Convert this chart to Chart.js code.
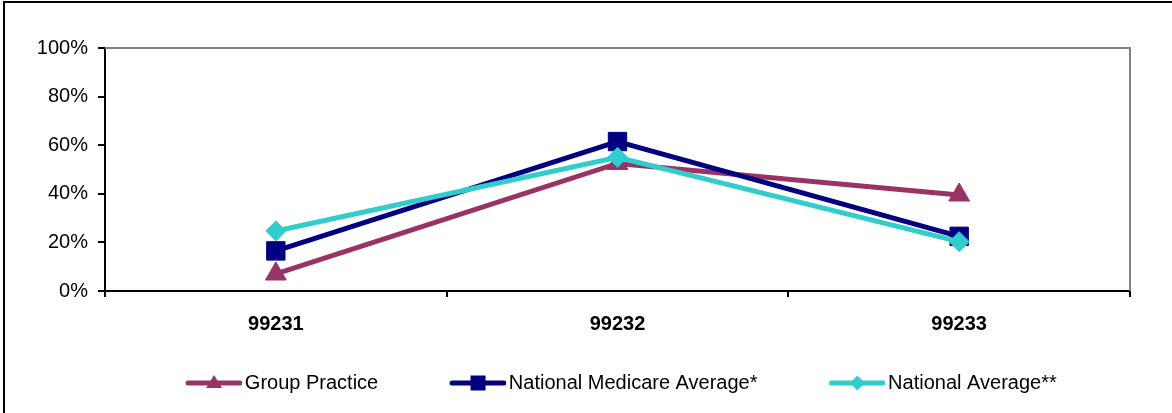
<!DOCTYPE html>
<html>
<head>
<meta charset="utf-8">
<script src="https://cdn.jsdelivr.net/npm/chart.js"></script>
<style>
  html, body { margin: 0; padding: 0; background: #fff; }
  #wrap { position: relative; width: 1172px; height: 413px; }
</style>
</head>
<body>
<div id="wrap"><canvas id="myChart" width="1172" height="413"></canvas></div>
<script>
// chart data
const codes = ['99231', '99232', '99233'];
const seriesNames = ['Group Practice', 'National Medicare Average*', 'National Average**'];
const groupPractice = [7, 52.5, 39.5];
const medicareAvg = [16.5, 61.5, 22.5];
const nationalAvg = [24.7, 55, 20.3];
const yTicks = [0, 20, 40, 60, 80, 100];

const colors = ['#993366', '#000080', '#33CCCC'];
const markers = ['triangle', 'rect', 'rectRot'];
const radii = [12, 13, 10];

const FONT = "'Liberation Sans', Arial, sans-serif";
const BOX_W = 119.6;
const LEG_PAD = 1;

// little legend picture: line with marker on its right part
function legendImage(i) {
  const c = document.createElement('canvas');
  c.width = Math.round(BOX_W + 14);
  c.height = 24;
  const g = c.getContext('2d');
  const x0 = c.width - 56, x1 = c.width, cy = 12;
  g.strokeStyle = colors[i];
  g.lineWidth = 5;
  g.lineCap = 'round';
  g.beginPath(); g.moveTo(x0 + 2, cy); g.lineTo(x1 - 2, cy); g.stroke();
  g.fillStyle = colors[i];
  const mx = (x0 + x1) / 2;
  g.beginPath();
  if (markers[i] === 'triangle') {
    g.moveTo(mx, cy - 8); g.lineTo(mx + 8, cy + 5); g.lineTo(mx - 8, cy + 5);
  } else if (markers[i] === 'rect') {
    g.rect(mx - 7.5, cy - 7.5, 15, 15);
  } else {
    g.moveTo(mx, cy - 7.5); g.lineTo(mx + 7.5, cy); g.lineTo(mx, cy + 7.5); g.lineTo(mx - 7.5, cy);
  }
  g.closePath(); g.fill();
  return c;
}

const frame = {
  id: 'frame',
  beforeDraw(chart) {
    const ctx = chart.ctx;
    ctx.save();
    ctx.fillStyle = '#fff';
    ctx.fillRect(0, 0, chart.width, chart.height);
    ctx.fillStyle = '#000';
    ctx.fillRect(3, 1, 2, chart.height);
    ctx.fillRect(3, 1, chart.width, 2);
    ctx.restore();
  },
  beforeDatasetsDraw(chart) {
    const a = chart.chartArea, ctx = chart.ctx;
    ctx.save();
    ctx.strokeStyle = '#808080';
    ctx.lineWidth = 2;
    ctx.beginPath();
    ctx.moveTo(a.left, a.top);
    ctx.lineTo(a.right, a.top);
    ctx.lineTo(a.right, a.bottom);
    ctx.stroke();
    ctx.restore();
  }
};

const series = [groupPractice, medicareAvg, nationalAvg];

const config = {
  type: 'line',
  data: {
    labels: codes,
    datasets: series.map((d, i) => ({
      label: seriesNames[i],
      data: d,
      yAxisID: 'y',
      borderColor: colors[i],
      backgroundColor: colors[i],
      borderWidth: 5,
      pointStyle: markers[i],
      pointRadius: radii[i],
      pointHoverRadius: radii[i],
      pointBorderWidth: 1,
      pointBackgroundColor: colors[i],
      pointBorderColor: colors[i],
      tension: 0,
      order: 2 - i
    }))
  },
  options: {
    responsive: false,
    animation: false,
    devicePixelRatio: 1,
    layout: { padding: { top: 48, right: 0, bottom: 10, left: 0 } },
    plugins: {
      tooltip: { enabled: false },
      legend: {
        position: 'bottom',
        labels: {
          usePointStyle: true,
          pointStyleWidth: BOX_W,
          padding: LEG_PAD,
          color: '#000',
          font: { family: FONT, size: 20 },
          generateLabels: (chart) => seriesNames.map((name, i) => ({
            text: name,
            pointStyle: legendImage(i),
            fillStyle: colors[i],
            strokeStyle: colors[i],
            lineWidth: 0,
            datasetIndex: i
          }))
        }
      }
    },
    scales: {
      x: {
        offset: true,
        grid: { offset: true, drawOnChartArea: false, tickLength: 6, color: '#000', lineWidth: 2 },
        border: { color: '#000', width: 2 },
        ticks: { color: '#000', padding: 15, font: { family: FONT, size: 20, weight: 'bold' } },
        afterFit: (s) => { s.height = 413 - 10 - 30 - LEG_PAD - 291; }
      },
      y: {
        min: 0,
        max: 100,
        afterBuildTicks: (s) => { s.ticks = yTicks.map(v => ({ value: v })); },
        grid: { drawOnChartArea: false, tickLength: 7, color: '#000', lineWidth: 2 },
        border: { color: '#000', width: 2 },
        ticks: { color: '#000', padding: 10, font: { family: FONT, size: 20 }, callback: (v) => v + '%' },
        afterFit: (s) => { s.width = 105; }
      },
      // empty right margin
      yRight: {
        position: 'right',
        min: 0,
        max: 100,
        grid: { display: false },
        border: { display: false },
        ticks: { display: false },
        afterFit: (s) => { s.width = 42; }
      }
    }
  },
  plugins: [frame]
};

new Chart(document.getElementById('myChart').getContext('2d'), config);
</script>
</body>
</html>
